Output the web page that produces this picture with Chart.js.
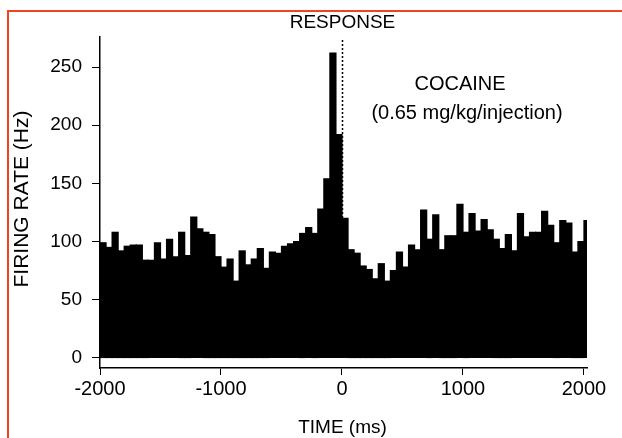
<!DOCTYPE html>
<html><head><meta charset="utf-8">
<script src="https://cdn.jsdelivr.net/npm/chart.js@4/dist/chart.umd.min.js"></script>
<style>html,body{margin:0;padding:0;background:#fff}#wrap{width:622px;height:438px;position:relative}</style>
</head><body><div id="wrap"><canvas id="c" width="622" height="438"></canvas></div>
<script>
// ---- data ----
const binStarts = [
  -2000,-1950,-1900,-1850,-1800,-1750,-1700,-1650,-1600,-1550,
  -1500,-1450,-1400,-1350,-1300,-1250,-1200,-1150,-1100,-1050,
  -1000,-950,-900,-850,-800,-750,-700,-650,-600,-550,
  -500,-450,-400,-350,-300,-250,-200,-150,-100,-50,
  0,50,100,150,200,250,300,350,400,450,
  500,550,600,650,700,750,800,850,900,950,
  1000,1050,1100,1150,1200,1250,1300,1350,1400,1450,
  1500,1550,1600,1650,1700,1750,1800,1850,1900,1950,
  2000
];
const binWidthMs = 50;
const firingRate = [
  99,95,108,92,96,97,97,84,84,99,
  85,102,87,108,88,121,111,108,106,87,
  78,85,66,92,80,85,94,77,91,90,
  96,98,100,107,112,107,128,154,262,192,
  120,93,90,79,76,68,81,66,75,91,
  78,97,93,127,102,123,93,105,105,132,
  108,124,109,119,110,102,94,106,92,124,
  104,108,108,126,114,99,118,116,91,100,
  118
];
const yTickValues = [0,50,100,150,200,250];
const xTickValues = [-2000,-1000,0,1000,2000];
const eventLabel = 'RESPONSE';
const drugLabel = 'COCAINE';
const doseLabel = '(0.65 mg/kg/injection)';
const xTitle = 'TIME (ms)';
const yTitle = 'FIRING RATE (Hz)';

const points = binStarts.map((s, i) => ({x: s + binWidthMs / 2, y: firingRate[i]}));
const FONT = '"Liberation Sans", Arial, sans-serif';

const decor = {
  id: 'decor',
  beforeDraw(chart) {
    const ctx = chart.ctx;
    ctx.save();
    ctx.strokeStyle = '#ee4520';
    ctx.lineWidth = 2;
    ctx.beginPath();
    ctx.moveTo(8, 438);
    ctx.lineTo(8, 11);
    ctx.lineTo(622, 11);
    ctx.stroke();
    ctx.restore();
  },
  afterDatasetsDraw(chart) {
    const ctx = chart.ctx;
    const xs = chart.scales.x, ys = chart.scales.y;
    const x0 = Math.round(xs.getPixelForValue(0)) + 0.5;
    ctx.save();
    ctx.strokeStyle = '#000';
    ctx.lineWidth = 1.5;
    ctx.setLineDash([2, 2]);
    ctx.beginPath();
    ctx.moveTo(x0, chart.chartArea.top + 3);
    ctx.lineTo(x0, ys.getPixelForValue(0));
    ctx.stroke();
    ctx.setLineDash([]);
    ctx.fillStyle = '#000';
    ctx.textAlign = 'center';
    ctx.textBaseline = 'middle';
    ctx.font = '19px ' + FONT;
    ctx.fillText(eventLabel, x0, 23);
    ctx.font = '20px ' + FONT;
    ctx.fillText(drugLabel, 460, 84);
    ctx.fillText(doseLabel, 467, 113);
    ctx.font = '19px ' + FONT;
    ctx.fillText(xTitle, x0, 428);
    ctx.font = '21px ' + FONT;
    ctx.translate(22, 199);
    ctx.rotate(-Math.PI / 2);
    ctx.fillText(yTitle, 0, 0);
    ctx.restore();
  }
};

new Chart(document.getElementById('c'), {
  type: 'bar',
  data: {
    datasets: [{
      data: points,
      backgroundColor: '#000',
      borderWidth: 0,
      barPercentage: 1,
      categoryPercentage: 1,
      inflateAmount: 0.6,
      grouped: false
    }]
  },
  options: {
    responsive: false,
    animation: false,
    devicePixelRatio: 1,
    layout: {padding: {left: 0, top: 37, right: 35, bottom: 0}},
    plugins: {legend: {display: false}, tooltip: {enabled: false}},
    scales: {
      x: {
        type: 'linear',
        min: -2000, max: 2025,
        offset: false,
        afterBuildTicks: s => { s.ticks = xTickValues.map(v => ({value: v})); },
        afterFit: s => { s.height = 70; },
        grid: {display: true, drawOnChartArea: false, drawTicks: true, tickLength: 7, color: '#000', lineWidth: 1, offset: false},
        border: {display: true, color: '#000', width: 1.5},
        ticks: {font: {family: FONT, size: 20}, color: '#000', padding: 2, maxRotation: 0, autoSkip: false,
                callback: v => String(v)}
      },
      y: {
        type: 'linear',
        min: -8.6, max: 275.8,
        afterBuildTicks: s => { s.ticks = yTickValues.map(v => ({value: v})); },
        afterFit: s => { s.width = 100; },
        grid: {display: true, drawOnChartArea: false, drawTicks: true, tickLength: 8, color: '#000', lineWidth: 1},
        border: {display: true, color: '#000', width: 1.5},
        ticks: {font: {family: FONT, size: 19}, color: '#000', padding: 10, callback: v => String(v)}
      }
    }
  },
  plugins: [decor]
});
</script>
</body></html>
